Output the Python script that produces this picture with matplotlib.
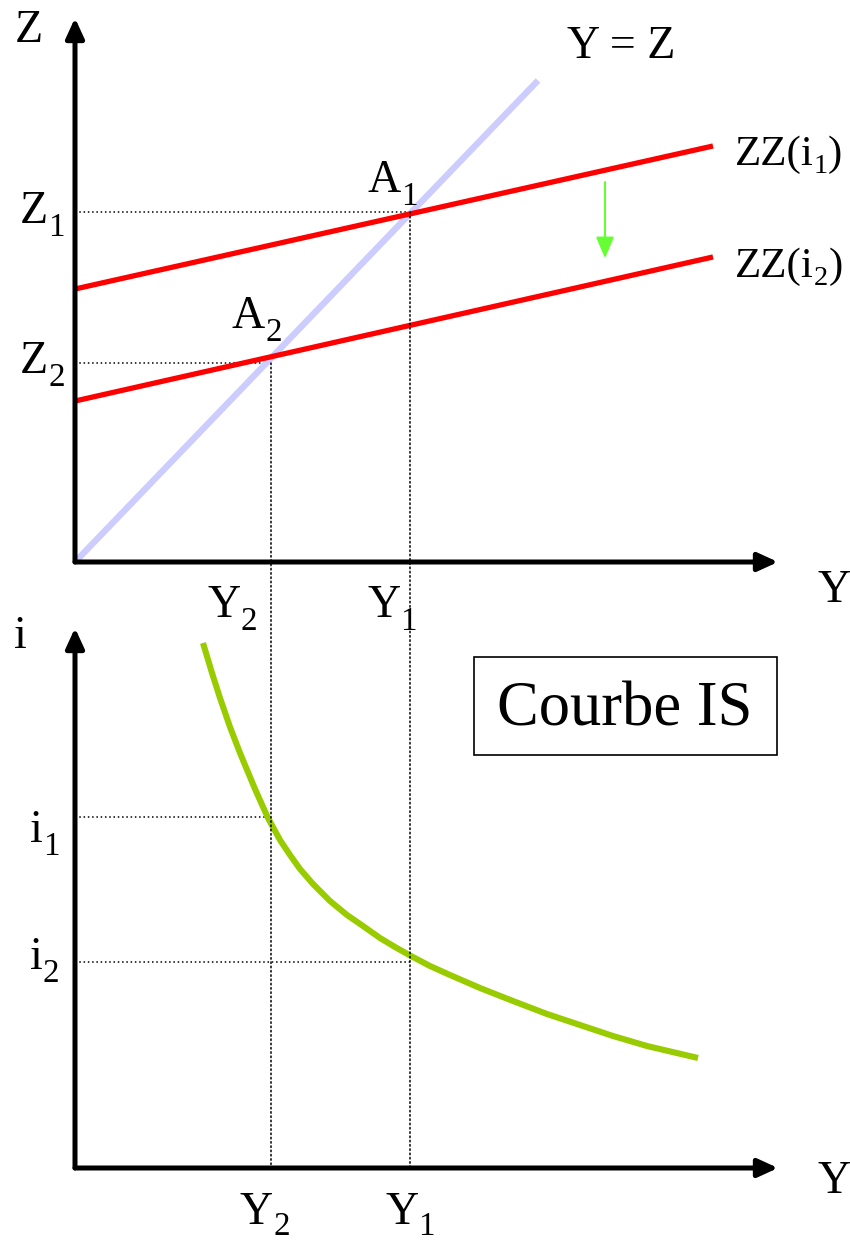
import matplotlib
matplotlib.use("Agg")
import matplotlib.pyplot as plt
from matplotlib.patches import Rectangle, ConnectionPatch

plt.rcParams['font.family'] = ['Liberation Serif', 'DejaVu Serif']

# ---------------- data ----------------
# top panel: goods market, Z = demand, Y = output
yz_line_x = [0.0, 4.63]               # 45-degree line Y = Z
yz_line_z = [0.0, 4.63]
zz_x = [0.0, 6.38]
zz1_z = [2.625, 4.00]                 # ZZ(i1)
zz2_z = [1.548, 2.933]                # ZZ(i2)
Y1, Y2 = 3.35, 1.96                   # equilibrium outputs
Z1, Z2 = 3.365, 1.913                 # equilibrium demand
# bottom panel: IS curve
is_Y = [1.28, 1.37, 1.45, 1.55, 1.65, 1.80, 1.93, 2.05, 2.15, 2.25, 2.38,
        2.55, 2.72, 2.88, 3.05, 3.20, 3.36, 3.55, 3.75, 4.05, 4.38, 4.72,
        5.05, 5.38, 5.72, 6.23]
is_i = [5.25, 4.95, 4.70, 4.41, 4.15, 3.79, 3.50, 3.28, 3.13, 2.99, 2.84,
        2.67, 2.53, 2.42, 2.30, 2.21, 2.12, 2.02, 1.93, 1.80, 1.67, 1.54,
        1.43, 1.32, 1.22, 1.10]
i1, i2 = 3.51, 2.06

W, H = 850, 1242
fig = plt.figure(figsize=(W / 100, H / 100), dpi=100)
renderer = fig.canvas.get_renderer()

ax1 = fig.add_axes([0, (H - 600) / H, 1, 600 / H])
ax1.set_xlim(-0.75, 7.75)
ax1.set_ylim(-38 / 104, 562 / 104)
ax1.axis('off')

ax2 = fig.add_axes([0, 0, 1, 642 / H])
ax2.set_xlim(-0.75, 7.75)
ax2.set_ylim(-0.74, 5.68)
ax2.axis('off')

RED = '#ff0000'
LAV = '#ccccff'
GRN = '#99cc00'
DOT = dict(color='black', lw=1.1, linestyle=(0, (1, 1.8)))
FS = 33


def axis_arrow(ax, start, end):
    ax.annotate('', xy=end, xytext=start,
                arrowprops=dict(arrowstyle='-|>,head_length=1.2,head_width=0.55',
                                lw=3.6, color='black', shrinkA=0, shrinkB=0),
                annotation_clip=False)


def label(px, py, parts, size=FS, sub_ratio=0.72, drop=13):
    """parts: list of (string, is_subscript); drawn left to right from px."""
    x = px
    for s, is_sub in parts:
        fs = size * sub_ratio if is_sub else size
        y = py + drop if is_sub else py
        t = fig.text(x / W, 1 - y / H, s, fontsize=fs, ha='left', va='baseline')
        x += t.get_window_extent(renderer).width


# ---------------- top panel ----------------
ax1.plot(yz_line_x, yz_line_z, color=LAV, lw=4.6, solid_capstyle='butt', zorder=2)
ax1.plot(zz_x, zz1_z, color=RED, lw=3.8, solid_capstyle='butt', zorder=3)
ax1.plot(zz_x, zz2_z, color=RED, lw=3.8, solid_capstyle='butt', zorder=3)
ax1.plot([0, Y1], [Z1, Z1], zorder=1, **DOT)
ax1.plot([0, Y2], [Z2, Z2], zorder=1, **DOT)
axis_arrow(ax1, (0, 0), (0, 544 / 104))
axis_arrow(ax1, (0, 0), (7.03, 0))

# downward shift arrow
ax1.annotate('', xy=(5.30, 2.92), xytext=(5.30, 3.654),
             arrowprops=dict(arrowstyle='-|>,head_length=1.3,head_width=0.55',
                             lw=1.5, color='#66ff33', shrinkA=0, shrinkB=0))

# ---------------- bottom panel ----------------
ax2.plot(is_Y, is_i, color=GRN, lw=4.4, solid_capstyle='butt',
         solid_joinstyle='round', zorder=3)
ax2.plot([0, Y2], [i1, i1], zorder=1, **DOT)
ax2.plot([0, Y1], [i2, i2], zorder=1, **DOT)
axis_arrow(ax2, (0, 0), (0, 5.40))
axis_arrow(ax2, (0, 0), (7.03, 0))

# vertical guides from top equilibria down to bottom axis
for yv, zv in ((Y1, Z1), (Y2, Z2)):
    con = ConnectionPatch(xyA=(yv, zv), coordsA=ax1.transData,
                          xyB=(yv, 0), coordsB=ax2.transData, zorder=1, **DOT)
    fig.add_artist(con)

# ---------------- text ----------------
label(15, 42, [('Z', False)])
label(567, 58, [('Y = Z', False)], size=33)
label(735, 165, [('ZZ(i', False), ('1', True), (')', False)], size=31,
      sub_ratio=0.66, drop=8)
label(735, 277, [('ZZ(i', False), ('2', True), (')', False)], size=31,
      sub_ratio=0.66, drop=8)
label(368, 192, [('A', False), ('1', True)])
label(232, 328, [('A', False), ('2', True)])
label(20, 223, [('Z', False), ('1', True)])
label(20, 373, [('Z', False), ('2', True)])
label(817, 602, [('Y', False)])
label(207, 617, [('Y', False), ('2', True)])
label(367, 617, [('Y', False), ('1', True)])
label(14, 648, [('i', False)])
label(30, 842, [('i', False), ('1', True)])
label(30, 969, [('i', False), ('2', True)])
label(240, 1224, [('Y', False), ('2', True)], drop=11)
label(385, 1224, [('Y', False), ('1', True)], drop=11)
label(817, 1193, [('Y', False)])

# "Courbe IS" box
fig.add_artist(Rectangle((474 / W, 1 - 755 / H), (777 - 474) / W, (755 - 657) / H,
                         transform=fig.transFigure, fill=False, edgecolor='black', lw=1.2))
fig.text(625 / W, 1 - 725 / H, 'Courbe IS', fontsize=45, ha='center', va='baseline')

fig.savefig('out.png', dpi=100)
